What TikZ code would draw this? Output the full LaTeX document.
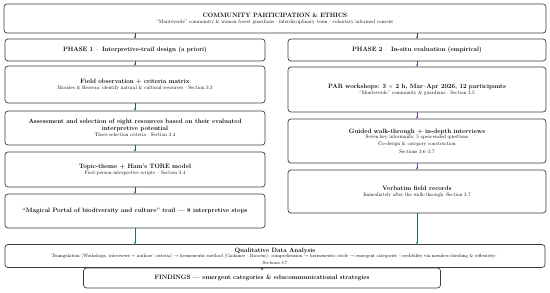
\documentclass[tikz,border=0pt]{standalone}
\usepackage{amsmath}
\usepackage{xcolor}
\usetikzlibrary{arrows.meta}

\definecolor{boxline}{RGB}{60,60,60}
\definecolor{toparrow}{RGB}{45,70,100}
\definecolor{leftarrow}{RGB}{30,90,105}
\definecolor{rightarrow}{RGB}{120,60,160}
\definecolor{greenarrow}{RGB}{25,120,75}

% switches for the small lines under a heading
\newcommand{\subtx}{\fontsize{10.2}{12}\selectfont\mdseries}
\newcommand{\subqda}{\fontsize{9.3}{10.6}\selectfont\mdseries}

\tikzset{
  stagebox/.style={draw=boxline, line width=1.4pt, rounded corners=6pt, fill=white,
    align=center, inner sep=2pt, font=\fontsize{12.6}{14.4}\selectfont\bfseries},
  flow/.style={-{Stealth[length=4.5pt,width=4.5pt]}, line width=1.4pt}
}

\begin{document}
\begin{tikzpicture}[x=2pt,y=-2pt]
	\useasboundingbox (0,0) rectangle (550,292);

	% top band
	\node[stagebox, minimum width=1084pt, minimum height=58pt] (ethics) at (275,18.5)
	  {COMMUNITY PARTICIPATION \& ETHICS\\[-2pt]
	   \subtx ``Monteverde'' community \& women forest guardians $\cdot$ interdisciplinary team $\cdot$ voluntary informed consent};

	% phase 1 column
	\node[stagebox, minimum width=520pt, minimum height=44pt] (phaseone) at (135,50)
	  {PHASE 1 $\cdot$\ \ Interpretive-trail design (a priori)};
	\node[stagebox, minimum width=520pt, minimum height=74pt] (fieldobs) at (135,84.5)
	  {Field observation + criteria matrix\\[-3pt]
	   \subtx Morales \& Herrera; identify natural \& cultural resources $\cdot$ Section 3.3};
	\node[stagebox, minimum width=520pt, minimum height=68pt] (assess) at (135,128)
	  {Assessment and selection of eight resources based on their evaluated\\[-1pt]
	   interpretive potential\\[-3pt]
	   \subtx Three selection criteria $\cdot$ Section 3.4};
	\node[stagebox, minimum width=520pt, minimum height=70pt] (tore) at (135,169.5)
	  {Topic-theme + Ham's TORE model\\[-3pt]
	   \subtx First-person interpretive scripts -- Section 3.4};
	\node[stagebox, minimum width=520pt, minimum height=68pt] (portal) at (135,211)
	  {``Magical Portal of biodiversity and culture'' trail --- 8 interpretive stops};

	% phase 2 column
	\node[stagebox, minimum width=516pt, minimum height=44pt] (phasetwo) at (417,50)
	  {PHASE 2 $\cdot$\ \ In-situ evaluation (empirical)};
	\node[stagebox, minimum width=516pt, minimum height=90pt] (parws) at (417,89.5)
	  {PAR workshops: 3 $\times$ 2 h, Mar--Apr 2026, 12 participants\\[-3pt]
	   \subtx ``Monteverde'' community \& guardians $\cdot$ Section 3.5};
	\node[stagebox, minimum width=516pt, minimum height=88pt] (walk) at (417,141)
	  {Guided walk-through + in-depth interviews\\[-3pt]
	   \subtx Seven key informants; 5 open-ended questions\\
	   \subtx Co-design \& category construction\\
	   \subtx Sections 3.6--3.7};
	\node[stagebox, minimum width=516pt, minimum height=86pt] (verbatim) at (417,191.5)
	  {Verbatim field records\\[-3pt]
	   \subtx Immediately after the walk-through $\cdot$Section 3.7};

	% analysis and findings
	\node[stagebox, minimum width=1080pt, minimum height=46pt] (qda) at (275,256)
	  {Qualitative Data Analysis\\[-4pt]
	   \subqda Triangulation (Workshops, interviews + authors' criteria) $\rightarrow$ hermeneutic method (Gadamer $\cdot$ Ricoeur): comprehension $\rightarrow$ hermeneutic circle $\rightarrow$ emergent categories $\cdot$ credibility via member-checking \& reflexivity $\cdot$\\[-1pt]
	   \subqda Sections 3.7};
	\node[stagebox, minimum width=714pt, minimum height=40pt] (findings) at (262,278)
	  {FINDINGS --- emergent categories \& educommunicational strategies};

	% connectors
	\draw[flow, toparrow] (ethics.south -| phaseone.north) -- (phaseone.north);
	\draw[flow, toparrow] (ethics.south -| phasetwo.north) -- (phasetwo.north);

	\draw[flow, leftarrow] (phaseone) -- (fieldobs);
	\draw[flow, leftarrow] (fieldobs) -- (assess);
	\draw[flow, leftarrow] (assess) -- (tore);
	\draw[flow, leftarrow] (tore) -- (portal);
	\draw[flow, greenarrow] (portal.south) -- (portal.south |- qda.north);

	\draw[flow, rightarrow] (phasetwo) -- (parws);
	\draw[flow, rightarrow] (parws) -- (walk);
	\draw[flow, rightarrow] (walk) -- (verbatim);
	\draw[flow, greenarrow] (verbatim.south) -- (verbatim.south |- qda.north);

	\draw[flow, greenarrow] (findings.north |- qda.south) -- (findings.north);
\end{tikzpicture}
\end{document}
